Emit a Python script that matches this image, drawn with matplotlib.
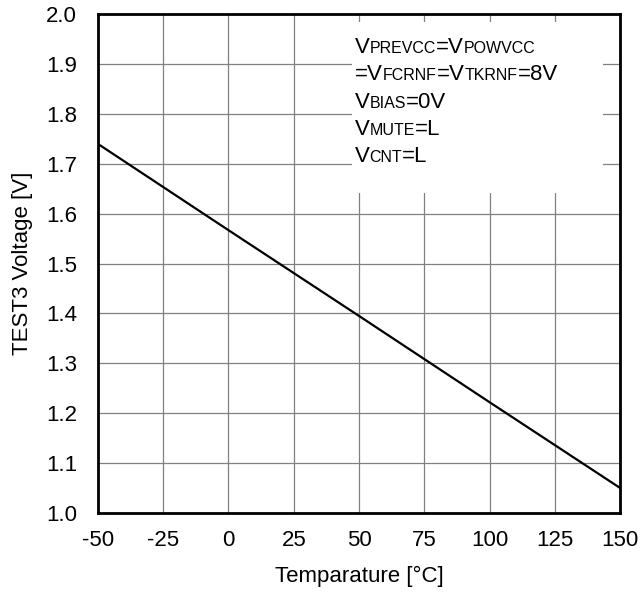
import matplotlib
matplotlib.use("Agg")
import matplotlib.pyplot as plt
import matplotlib.transforms as mtransforms
from matplotlib.patches import Rectangle
import numpy as np

plt.rcParams["font.family"] = ["Liberation Sans", "DejaVu Sans"]

# data
temp = [-50, 0, 50, 100, 150]
voltage = [1.74, 1.567, 1.395, 1.222, 1.05]
xticks = [-50, -25, 0, 25, 50, 75, 100, 125, 150]
yticks = [1.0, 1.1, 1.2, 1.3, 1.4, 1.5, 1.6, 1.7, 1.8, 1.9, 2.0]

# annotation rows: (text, is_small)
rows = [
    [("V", 0), ("PREVCC", 1), ("=V", 0), ("POWVCC", 1)],
    [("=V", 0), ("FCRNF", 1), ("=V", 0), ("TKRNF", 1), ("=8V", 0)],
    [("V", 0), ("BIAS", 1), ("=0V", 0)],
    [("V", 0), ("MUTE", 1), ("=L", 0)],
    [("V", 0), ("CNT", 1), ("=L", 0)],
]

fig = plt.figure(figsize=(6.4, 5.93), dpi=100)
ax = fig.add_axes([0.153, 0.135, 0.816, 0.841])

ax.plot(temp, voltage, color="black", lw=1.6, zorder=3)

ax.set_xlim(-50, 150)
ax.set_ylim(1.0, 2.0)
ax.set_xticks(xticks)
ax.set_yticks(yticks)
ax.set_xticklabels([str(t) for t in xticks])
ax.set_yticklabels(["%.1f" % t for t in yticks])
ax.tick_params(length=0, labelsize=16, colors="black")
ax.tick_params(axis="y", pad=15)
ax.tick_params(axis="x", pad=12)
ax.grid(True, color="#808080", lw=0.9)
for s in ax.spines.values():
    s.set_linewidth(2)
    s.set_zorder(5)

ax.set_xlabel("Temparature [°C]", fontsize=16, labelpad=11)
ax.set_ylabel("TEST3 Voltage [V]", fontsize=16, labelpad=9)

# white box behind the conditions text
ax.add_patch(Rectangle((47.3, 1.641), 96.2, 0.343, facecolor="white",
                       edgecolor="none", zorder=2))

fig.canvas.draw()
renderer = fig.canvas.get_renderer()
y0 = 0.922
for i, row in enumerate(rows):
    trans = ax.transAxes
    x = 0.492
    y = y0 - i * 0.0546
    for txt, small in row:
        t = ax.text(x, y, txt, fontsize=11.5 if small else 16, transform=trans,
                    ha="left", va="baseline", zorder=4)
        w = t.get_window_extent(renderer=renderer).width
        trans = mtransforms.offset_copy(trans, fig=fig, x=w, y=0, units="dots")

fig.savefig("out.png", dpi=100)
